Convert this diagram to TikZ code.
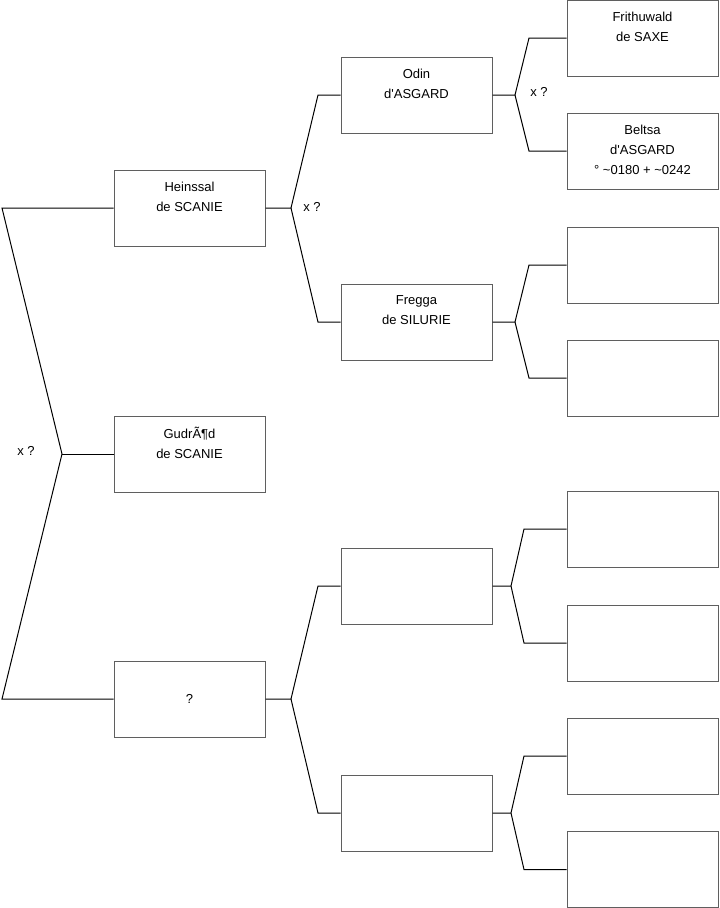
\documentclass[tikz,border=0pt]{standalone}
\usepackage{fontspec}
\setmainfont{Liberation Sans}
\definecolor{cadregris}{RGB}{95,95,95}

\begin{document}
\begin{tikzpicture}[x=0.75pt, y=-0.75pt,
    pers/.style={draw=cadregris, line width=0.75pt, minimum width=113.25pt,
                 minimum height=57pt, inner sep=0pt, align=center,
                 text depth=2.5pt, font=\fontsize{9.75}{15}\selectfont},
    lien/.style={line width=0.75pt, black},
    doute/.style={inner sep=1pt, font=\fontsize{9.75}{11}\selectfont}
  ]
  \useasboundingbox (0,0) rectangle (719,908);

  % generation 1
  \node[pers] (heinssal) at (189.5,208) {Heinssal\\de SCANIE\\\mbox{}};
  \node[pers] (gudrod)   at (189.5,454) {GudrÃ¶d\\de SCANIE\\\mbox{}};
  \node[pers, text depth=0pt] (inconnu) at (189.5,699) {?};

  % generation 2
  \node[pers] (odin)   at (416.5,95)  {Odin\\d\textquotesingle ASGARD\\\mbox{}};
  \node[pers] (fregga) at (416.5,322) {Fregga\\de SILURIE\\\mbox{}};
  \node[pers] (pa)     at (416.5,586) {};
  \node[pers] (pb)     at (416.5,813) {};

  % generation 3
  \node[pers] (frith)  at (642.5,38)  {Frithuwald\\de SAXE\\\mbox{}};
  \node[pers] (beltsa) at (642.5,151) {Beltsa\\d\textquotesingle ASGARD\\° \textasciitilde0180 + \textasciitilde0242};
  \foreach \n/\y in {fc/265, fd/378, fe/529, ff/643, fg/756, fh/869.5}
    \node[pers] (\n) at (642.5,\y) {};

  % fourches
  \coordinate (r1) at (2,208);
  \coordinate (r2) at (2,699);
  \coordinate (k0) at (62,454);
  \coordinate (k1) at (291,208);
  \coordinate (k1a) at (318,95);
  \coordinate (k1b) at (318,322);
  \coordinate (k2) at (291,699);
  \coordinate (k2a) at (318,586);
  \coordinate (k2b) at (318,813);
  \coordinate (k3) at (515,95);
  \coordinate (k3a) at (529,38);
  \coordinate (k3b) at (529,151);
  \coordinate (k4) at (515,322);
  \coordinate (k4a) at (529,265);
  \coordinate (k4b) at (529,378);
  \coordinate (k5) at (511,586);
  \coordinate (k5a) at (524,529);
  \coordinate (k5b) at (524,643);
  \coordinate (k6) at (511,813);
  \coordinate (k6a) at (524,756);
  \coordinate (k6b) at (524,869.5);

  \draw[lien] (heinssal.west) -- (r1) -- (k0) -- (r2) -- (inconnu.west);
  \draw[lien] (k0) -- (gudrod.west);
  \draw[lien] (heinssal.east) -- (k1) -- (k1a) -- (odin.west);
  \draw[lien] (k1) -- (k1b) -- (fregga.west);
  \draw[lien] (inconnu.east) -- (k2) -- (k2a) -- (pa.west);
  \draw[lien] (k2) -- (k2b) -- (pb.west);
  \draw[lien] (odin.east) -- (k3) -- (k3a) -- (frith.west);
  \draw[lien] (k3) -- (k3b) -- (beltsa.west);
  \draw[lien] (fregga.east) -- (k4) -- (k4a) -- (fc.west);
  \draw[lien] (k4) -- (k4b) -- (fd.west);
  \draw[lien] (pa.east) -- (k5) -- (k5a) -- (fe.west);
  \draw[lien] (k5) -- (k5b) -- (ff.west);
  \draw[lien] (pb.east) -- (k6) -- (k6a) -- (fg.west);
  \draw[lien] (k6) -- (k6b) -- (fh.west);

  % unions incertaines
  \node[doute] (x0) at (26,451) {x ?};
  \node[doute] (x1) at (312,207) {x ?};
  \node[doute] (x2) at (539,92)  {x ?};
\end{tikzpicture}
\end{document}
